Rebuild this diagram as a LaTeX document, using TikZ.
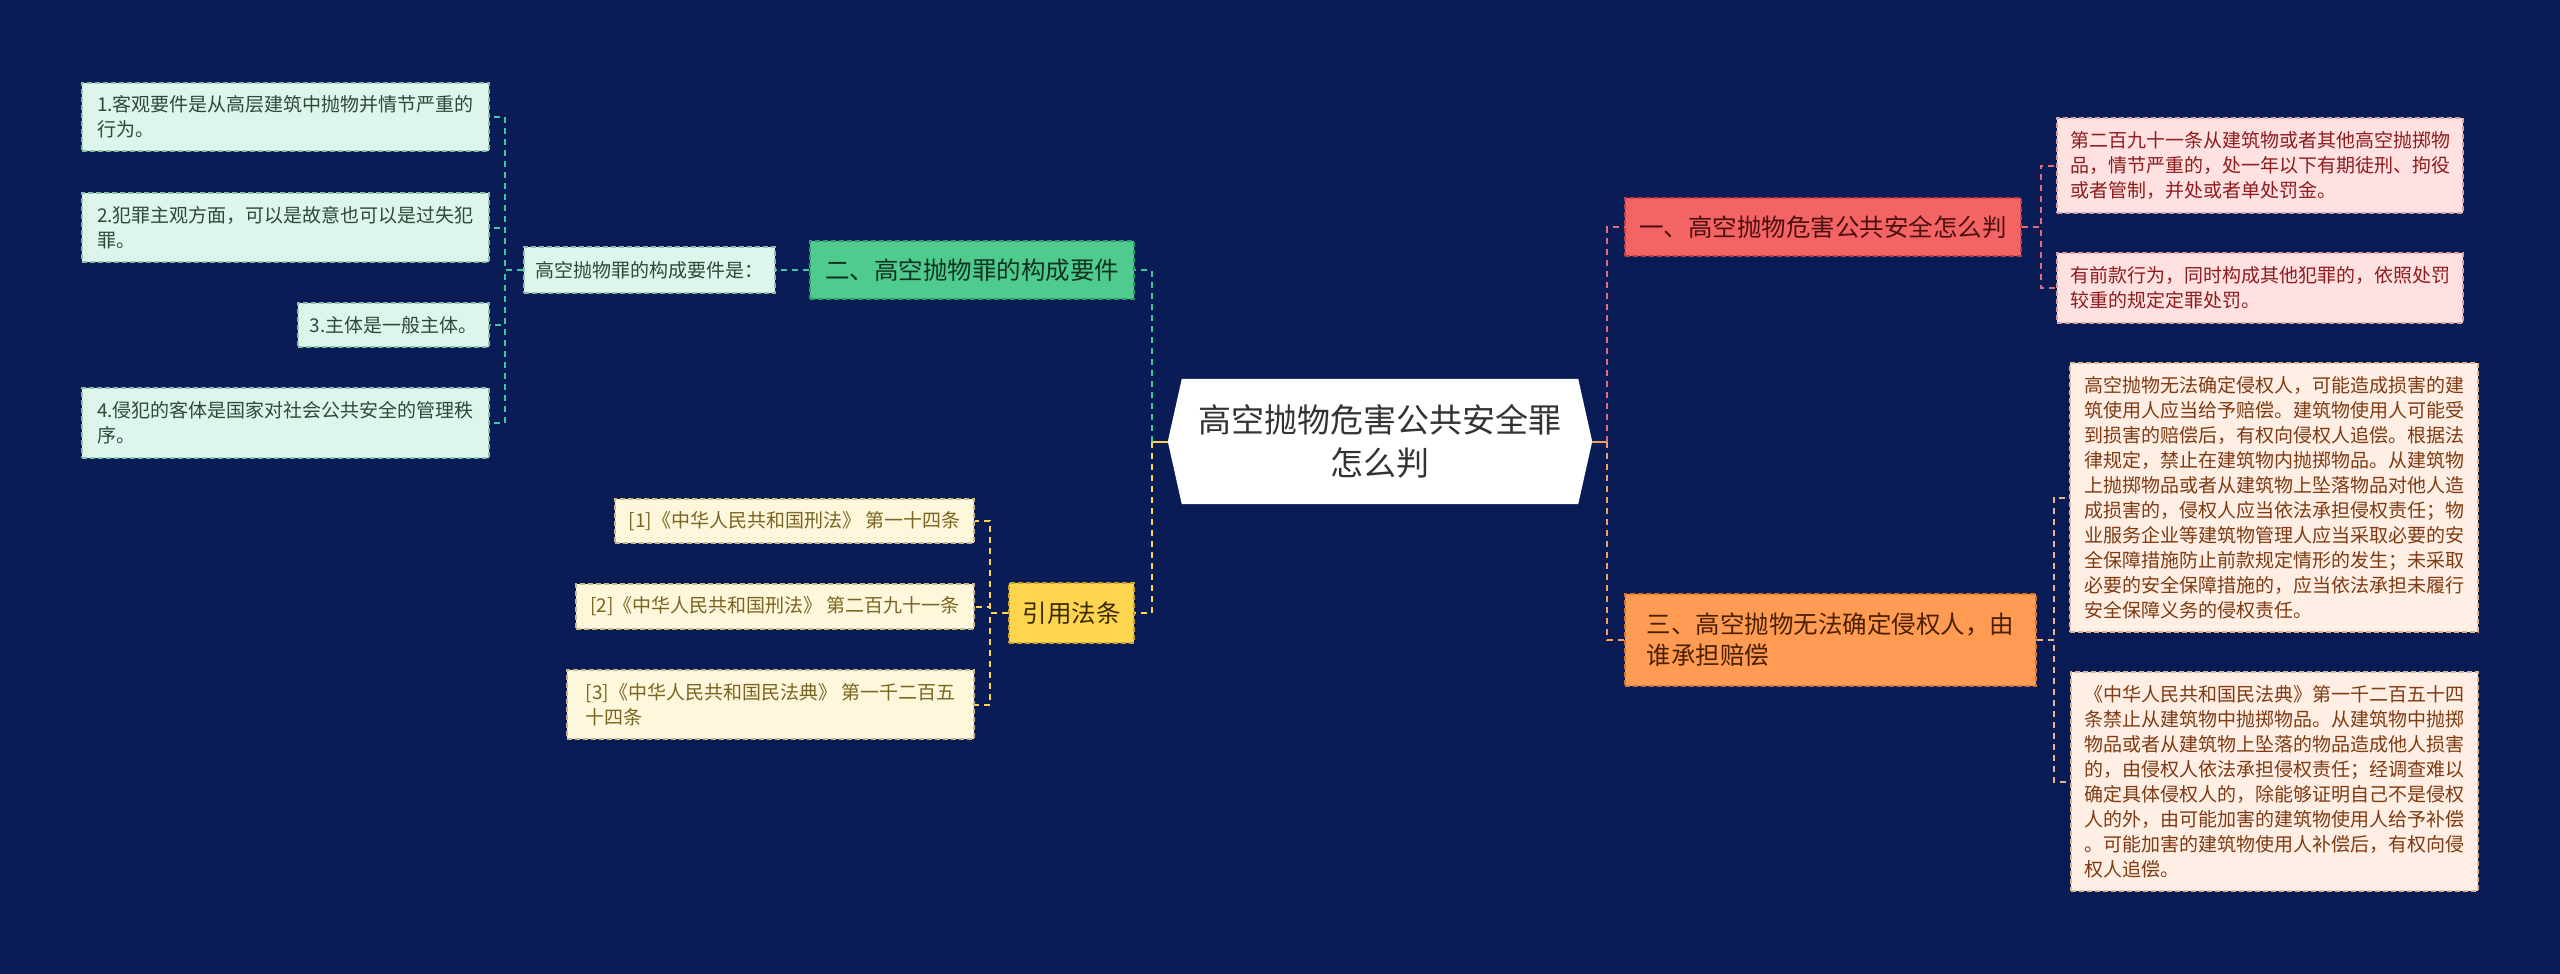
\documentclass[tikz,border=0pt]{standalone}
\usepackage{fontspec}
\setmainfont{Noto Sans CJK SC}
\usetikzlibrary{calc,backgrounds}
\definecolor{bg}{HTML}{0A1C55}
\definecolor{mintF}{HTML}{DDF5EA}\definecolor{mintD}{HTML}{88BFA8}\definecolor{mintT}{HTML}{2B4A3C}
\definecolor{grnF}{HTML}{4ECB8D}\definecolor{grnD}{HTML}{2F9A68}\definecolor{grnT}{HTML}{123222}
\definecolor{crmF}{HTML}{FFF7DB}\definecolor{crmD}{HTML}{C9B98A}\definecolor{crmT}{HTML}{7A6421}
\definecolor{ylwF}{HTML}{FFD54F}\definecolor{ylwD}{HTML}{C9A330}\definecolor{ylwT}{HTML}{3A2C00}
\definecolor{redF}{HTML}{F56464}\definecolor{redD}{HTML}{C04040}\definecolor{redT}{HTML}{4A0E0E}
\definecolor{pnkF}{HTML}{FFE1E1}\definecolor{pnkD}{HTML}{D9A0A0}\definecolor{pnkT}{HTML}{8E1C1C}
\definecolor{orgF}{HTML}{FF9B52}\definecolor{orgD}{HTML}{D07530}\definecolor{orgT}{HTML}{4A2000}
\definecolor{pchF}{HTML}{FFEEE3}\definecolor{pchD}{HTML}{DDB496}\definecolor{pchT}{HTML}{7E3A12}
\definecolor{lnTeal}{HTML}{3CCB9E}\definecolor{lnYlw}{HTML}{FFD54F}\definecolor{lnPnk}{HTML}{E36C7A}
\definecolor{lnOrg}{HTML}{F5A060}\definecolor{lnPch}{HTML}{F2B38C}
\begin{document}
\begin{tikzpicture}[x=1pt,y=-1pt,
  box/.style={rectangle, inner sep=0pt, align=left, dash pattern=on 5pt off 3pt, line width=1.2pt},
  leaf/.style={box, font=\fontsize{19}{25}\selectfont},
  leafMint/.style={leaf, fill=mintF, draw=mintD, text=mintT},
  leafCrm/.style={leaf, fill=crmF, draw=crmD, text=crmT},
  leafPnk/.style={leaf, fill=pnkF, draw=pnkD, text=pnkT},
  leafPch/.style={leaf, fill=pchF, draw=pchD, text=pchT},
  branch/.style={box, font=\fontsize{24.5}{31}\selectfont},
  brGrn/.style={branch, fill=grnF, draw=grnD, text=grnT},
  brYlw/.style={branch, fill=ylwF, draw=ylwD, text=ylwT},
  brRed/.style={branch, fill=redF, draw=redD, text=redT},
  brOrg/.style={branch, fill=orgF, draw=orgD, text=orgT},
  conn/.style={line width=2pt, dash pattern=on 6pt off 5pt},
  cTeal/.style={conn, draw=lnTeal},
  cYlw/.style={conn, draw=lnYlw},
  cPnk/.style={conn, draw=lnPnk},
  cOrg/.style={conn, draw=lnOrg},
  cPch/.style={conn, draw=lnPch},
  stub/.style={line width=2pt}
]
\begin{pgfonlayer}{background}
\fill[bg] (0,0) rectangle (2560,974);
\end{pgfonlayer}
\useasboundingbox (0,0) rectangle (2560,974);

% central node
\node[inner sep=0pt, minimum width=424pt, minimum height=125pt, align=center, text=black!80,
      font=\fontsize{33}{43}\selectfont] (C) at (1380,441.5) {高空抛物危害公共安全罪\\怎么判};
\begin{pgfonlayer}{background}
\fill[white] (C.west) -- ([xshift=14pt]C.north west) -- ([xshift=-14pt]C.north east) -- (C.east)
  -- ([xshift=-14pt]C.south east) -- ([xshift=14pt]C.south west) -- cycle;
\end{pgfonlayer}

% left branch: 二
\node[brGrn, minimum width=324pt, minimum height=58pt] (G2) at (972,270) {二、高空抛物罪的构成要件};
\node[leafMint, minimum width=251pt, minimum height=46pt] (K) at (649.5,270) {高空抛物罪的构成要件是：};
\node[leafMint, minimum width=407pt, minimum height=68pt] (L1) at (285.5,117) {1.客观要件是从高层建筑中抛物并情节严重的\\行为。};
\node[leafMint, minimum width=407pt, minimum height=69pt] (L2) at (285.5,227.5) {2.犯罪主观方面，可以是故意也可以是过失犯\\罪。};
\node[leafMint, minimum width=191pt, minimum height=44pt] (L3) at (393.5,325) {3.主体是一般主体。};
\node[leafMint, minimum width=407pt, minimum height=70pt] (L4) at (285.5,423) {4.侵犯的客体是国家对社会公共安全的管理秩\\序。};

% left branch: 引用法条
\node[brYlw, minimum width=125pt, minimum height=60pt] (Y) at (1071.5,613) {引用法条};
\node[leafCrm, minimum width=359pt, minimum height=44pt] (R1) at (794.5,521) {[1]《中华人民共和国刑法》 第一十四条};
\node[leafCrm, minimum width=398pt, minimum height=45pt] (R2) at (775,606.5) {[2]《中华人民共和国刑法》 第二百九十一条};
\node[leafCrm, minimum width=407pt, minimum height=69pt] (R3) at (770.5,704.5) {[3]《中华人民共和国民法典》 第一千二百五\\十四条};

% right branch: 一
\node[brRed, minimum width=396pt, minimum height=58pt] (B1) at (1823,227) {一、高空抛物危害公共安全怎么判};
\node[leafPnk, minimum width=406pt, minimum height=95pt] (Ra) at (2260,165.5) {第二百九十一条从建筑物或者其他高空抛掷物\\品，情节严重的，处一年以下有期徒刑、拘役\\或者管制，并处或者单处罚金。};
\node[leafPnk, minimum width=406pt, minimum height=70pt] (Rb) at (2260,288) {有前款行为，同时构成其他犯罪的，依照处罚\\较重的规定定罪处罚。};

% right branch: 三
\node[brOrg, minimum width=411pt, minimum height=92pt] (B3) at (1830.5,640) {三、高空抛物无法确定侵权人，由\\谁承担赔偿};
\node[leafPch, minimum width=408pt, minimum height=269pt] (Rc) at (2274,497.5) {高空抛物无法确定侵权人，可能造成损害的建\\筑使用人应当给予赔偿。建筑物使用人可能受\\到损害的赔偿后，有权向侵权人追偿。根据法\\律规定，禁止在建筑物内抛掷物品。从建筑物\\上抛掷物品或者从建筑物上坠落物品对他人造\\成损害的，侵权人应当依法承担侵权责任；物\\业服务企业等建筑物管理人应当采取必要的安\\全保障措施防止前款规定情形的发生；未采取\\必要的安全保障措施的，应当依法承担未履行\\安全保障义务的侵权责任。};
\node[leafPch, minimum width=407pt, minimum height=219pt] (Rd) at (2274.5,781.5) {《中华人民共和国民法典》第一千二百五十四\\条禁止从建筑物中抛掷物品。从建筑物中抛掷\\物品或者从建筑物上坠落的物品造成他人损害\\的，由侵权人依法承担侵权责任；经调查难以\\确定具体侵权人的，除能够证明自己不是侵权\\人的外，由可能加害的建筑物使用人给予补偿\\。可能加害的建筑物使用人补偿后，有权向侵\\权人追偿。};

% connectors - left
\draw[stub, draw=lnYlw] (C.west) -- ++(-16,0) coordinate (jl);
\draw[cTeal] (jl) |- (G2.east);
\draw[cYlw] (jl) |- (Y.east);
\draw[cTeal] (G2.west) -- (K.east);
\foreach \n in {L1,L2,L3,L4} \draw[cTeal] (K.west) -- ++(-18,0) |- (\n.east);
\foreach \n in {R1,R2,R3} \draw[cYlw] (Y.west) -- ++(-18,0) |- (\n.east);

% connectors - right
\draw[stub, draw=lnOrg] (C.east) -- ++(15,0) coordinate (jr);
\draw[cPnk] (jr) |- (B1.west);
\draw[cOrg] (jr) |- (B3.west);
\foreach \n in {Ra,Rb} \draw[cPnk] (B1.east) -- ++(19,0) |- (\n.west);
\foreach \n in {Rc,Rd} \draw[cPch] (B3.east) -- ++(17,0) |- (\n.west);
\end{tikzpicture}
\end{document}
